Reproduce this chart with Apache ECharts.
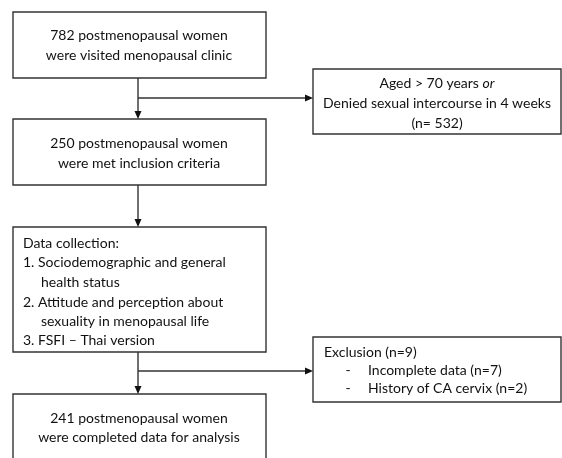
<!DOCTYPE html>
<html>
<head>
<meta charset="utf-8">
<script src="https://cdn.jsdelivr.net/npm/echarts@6/dist/echarts.min.js"></script>
<style>
  html, body { margin: 0; padding: 0; background: #fff; }
  #chart { width: 562px; height: 458px; }
</style>
</head>
<body>
<div id="chart"></div>
<script>
// box contents (text), in flow order
const boxTexts = [
  ["782 postmenopausal women", "were visited menopausal clinic"],
  ["250 postmenopausal women", "were met inclusion criteria"],
  [
    "Data collection:",
    "1. Sociodemographic and general",
    "health status",
    "2. Attitude and perception about",
    "sexuality in menopausal life",
    "3. FSFI \u2013 Thai version",
  ],
  ["241 postmenopausal women", "were completed data for analysis"],
  ["Aged > 70 years {i|or}", "Denied sexual intercourse in 4 weeks", "(n= 532)"],
  ["Exclusion (n=9)", "Incomplete data (n=7)", "History of CA cervix (n=2)"],
];

// box extents in diagram units: [x0, y0, x1, y1]
const boxRects = [
  [13, 12, 266, 78],
  [13, 119, 266, 185],
  [13, 227, 266, 352],
  [13, 394, 266, 470],
  [313, 69, 561, 134],
  [313, 337, 561, 402],
];

// text layout per box: align, x for text, baseline-middle y of each line, indent of each line
const boxLayout = [
  { align: "center", x: 139, ys: [35, 55] },
  { align: "center", x: 139, ys: [143, 163] },
  { align: "left", x: 23, ys: [243, 262, 282, 302, 321, 340], indent: [0, 0, 18, 0, 18, 0] },
  { align: "center", x: 139, ys: [418, 437] },
  { align: "center", x: 437, ys: [83, 103, 123] },
  { align: "left", x: 324, ys: [352, 370, 388], indent: [0, 44, 44], dash: [false, true, true] },
];

// connectors: [x0, y0, x1, y1], arrow head at the end
const arrows = [
  [138, 78, 138, 119],
  [138, 98, 313, 98],
  [138, 185, 138, 227],
  [138, 352, 138, 394],
  [138, 371, 313, 371],
];

const LINE = "#333";
const FONT = "Lato";
const FS = 14;

const chart = echarts.init(document.getElementById("chart"));

const renderBox = (params, api) => {
  const i = params.dataIndex;
  const p0 = api.coord([api.value(0), api.value(1)]);
  const p1 = api.coord([api.value(2), api.value(3)]);
  const lay = boxLayout[i];
  const children = [
    {
      type: "rect",
      shape: { x: p0[0], y: p0[1], width: p1[0] - p0[0], height: p1[1] - p0[1] },
      style: { fill: "#fff", stroke: LINE, lineWidth: 1.4 },
    },
  ];
  boxTexts[i].forEach((t, k) => {
    const pt = api.coord([lay.x + (lay.indent ? lay.indent[k] : 0), lay.ys[k]]);
    children.push({
      type: "text",
      style: {
        text: t,
        x: pt[0],
        y: pt[1],
        align: lay.align,
        verticalAlign: "middle",
        fontFamily: FONT,
        fontSize: FS,
        fill: "#111",
        rich: { i: { fontStyle: "italic", fontFamily: FONT, fontSize: FS, fill: "#111" } },
      },
    });
    if (lay.dash && lay.dash[k]) {
      const dp = api.coord([lay.x + 24, lay.ys[k]]);
      children.push({
        type: "text",
        style: {
          text: "-",
          x: dp[0],
          y: dp[1],
          align: "center",
          verticalAlign: "middle",
          fontFamily: FONT,
          fontSize: FS,
          fill: "#111",
        },
      });
    }
  });
  return { type: "group", children };
};

const renderArrow = (params, api) => {
  const a = api.coord([api.value(0), api.value(1)]);
  const b = api.coord([api.value(2), api.value(3)]);
  const dx = b[0] - a[0];
  const dy = b[1] - a[1];
  const len = Math.sqrt(dx * dx + dy * dy);
  const ux = dx / len;
  const uy = dy / len;
  const head = 8;
  const half = 3.5;
  const base = [b[0] - ux * head, b[1] - uy * head];
  return {
    type: "group",
    children: [
      {
        type: "line",
        shape: { x1: a[0], y1: a[1], x2: base[0], y2: base[1] },
        style: { stroke: LINE, lineWidth: 1.4 },
      },
      {
        type: "polygon",
        shape: {
          points: [
            b,
            [base[0] - uy * half, base[1] + ux * half],
            [base[0] + uy * half, base[1] - ux * half],
          ],
        },
        style: { fill: "#111" },
      },
    ],
  };
};

chart.setOption({
  animation: false,
  backgroundColor: "#fff",
  grid: { left: 0, right: 0, top: 0, bottom: 0 },
  xAxis: { type: "value", min: 0, max: 562, show: false },
  yAxis: { type: "value", min: 0, max: 458, inverse: true, show: false },
  series: [
    {
      type: "custom",
      renderItem: renderBox,
      data: boxRects,
      clip: true,
      silent: true,
    },
    {
      type: "custom",
      renderItem: renderArrow,
      data: arrows,
      silent: true,
    },
  ],
});
</script>
</body>
</html>
